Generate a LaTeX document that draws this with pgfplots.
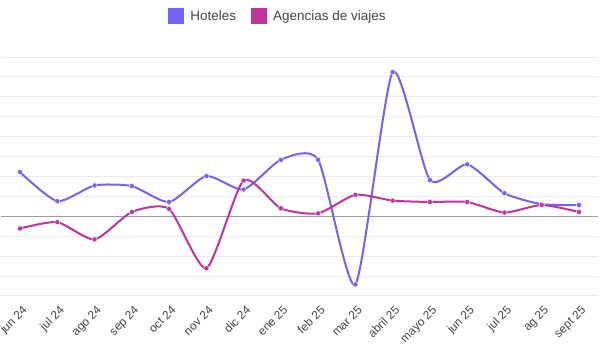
\documentclass[border=0pt]{standalone}
\usepackage{pgfplots}
\pgfplotsset{compat=1.18}
\usepackage{fontspec}
\setmainfont{Liberation Sans}
\definecolor{hot}{HTML}{7661F6}
\definecolor{age}{HTML}{C2339F}
\definecolor{txt}{HTML}{444444}
\definecolor{gridc}{HTML}{EBEBEB}
\definecolor{zeroc}{HTML}{9E9E9E}
\begin{document}
\begin{tikzpicture}[x=1pt,y=1pt]
\useasboundingbox (0,0) rectangle (600,364);
\fill[white] (0,0) rectangle (600,364);
\begin{axis}[
  at={(1.4pt,68pt)}, anchor=south west,
  scale only axis, width=596.2pt, height=239pt,
  xmin=-0.5, xmax=15.5, ymin=-4, ymax=8,
  axis line style={draw=none},
  major tick length=0pt,
  ytick={-4,-3,...,8}, yticklabels={},
  ymajorgrids, major grid style={color=gridc, line width=1pt},
  xtick={0,1,...,15},
  xticklabels={jun 24,jul 24,ago 24,sep 24,oct 24,nov 24,dic 24,ene 25,feb 25,mar 25,abril 25,mayo 25,jun 25,jul 25,ag 25,sept 25},
  xticklabel style={xshift=1.5pt, yshift=-7.5pt, rotate=45, anchor=north east, font=\fontsize{11.8}{13}\selectfont, text=txt, inner sep=1pt},
  clip=false,
  legend style={at={(0.464,1.1715)}, anchor=center, draw=none, fill=none,
    font=\fontsize{13.5}{15}\selectfont, text=txt,
    /tikz/every even column/.append style={column sep=13pt}},
  legend columns=2,
  legend image code/.code={\fill[#1] (0pt,-7pt) rectangle (14pt,7pt);},
]
\addplot[zeroc, line width=1pt, forget plot] coordinates {(-0.5,0) (15.5,0)};
\addplot[hot, line width=2pt, smooth, tension=0.38, mark=*, mark size=2.6pt,
  mark options={fill=hot, draw=white, line width=0.4pt}] coordinates {
(0,2.22) (1,0.76) (2,1.55) (3,1.52) (4,0.72) (5,2.02) (6,1.35) (7,2.84)
(8,2.84) (9,-3.42) (10,7.24) (11,1.82) (12,2.61) (13,1.16) (14,0.61) (15,0.57)};
\addlegendentry{\hspace{4pt}Hoteles}
\addplot[age, line width=2pt, smooth, tension=0.38, mark=*, mark size=2.6pt,
  mark options={fill=age, draw=white, line width=0.4pt}] coordinates {
(0,-0.61) (1,-0.29) (2,-1.16) (3,0.22) (4,0.37) (5,-2.61) (6,1.80) (7,0.40)
(8,0.15) (9,1.08) (10,0.79) (11,0.72) (12,0.72) (13,0.19) (14,0.57) (15,0.22)};
\addlegendentry{\hspace{4pt}Agencias de viajes}
\end{axis}
\end{tikzpicture}
\end{document}
